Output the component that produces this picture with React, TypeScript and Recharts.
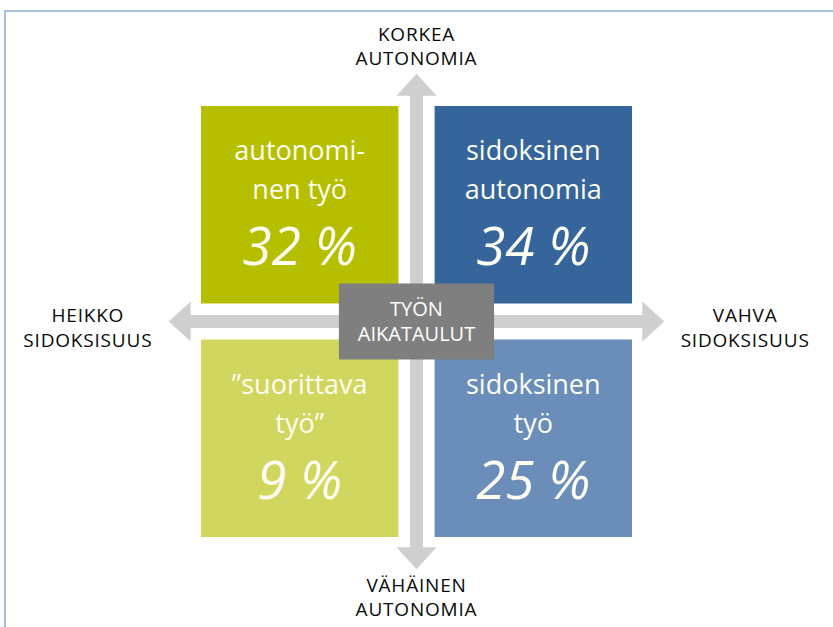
import { ComposedChart, XAxis, YAxis, ReferenceArea, ReferenceDot } from "recharts";

// quadrant contents, in order: top-left, top-right, bottom-left, bottom-right
const quadrantTitles = [
  ["autonomi-", "nen työ"],
  ["sidoksinen", "autonomia"],
  ["”suorittava", "työ”"],
  ["sidoksinen", "työ"],
];
const quadrantShares = [32, 34, 9, 25];
const bondSide = [-1, 1, -1, 1]; // heikko / vahva sidoksisuus
const autonomySide = [1, 1, -1, -1]; // korkea / vähäinen autonomia

const autonomyLabels = [
  ["KORKEA", "AUTONOMIA"],
  ["VÄHÄINEN", "AUTONOMIA"],
];
const bondLabels = [
  ["HEIKKO", "SIDOKSISUUS"],
  ["VAHVA", "SIDOKSISUUS"],
];
const centerLabel = ["TYÖN", "AIKATAULUT"];

const COLORS = ["#b5bf00", "#35659a", "#d1d65e", "#6a8db9"];
const FONT = "'Segoe UI', 'Open Sans', 'Noto Sans', sans-serif";
const ARROW = "#cfcfcf";
const GAP = 0.084;
const ARROW_END = 1.15;

function QuadrantLabel(props: any) {
  const { viewBox, lines, share } = props;
  const { x, y, width } = viewBox;
  const cx = x + width / 2;
  return (
    <g fill="#fdfdf2" textAnchor="middle" fontFamily={FONT}>
      <text x={cx} y={y + 54} fontSize={27}>
        <tspan x={cx}>{lines[0]}</tspan>
        <tspan x={cx} dy={39}>{lines[1]}</tspan>
      </text>
      <text x={cx} y={y + 159} fontSize={53} fontStyle="italic">
        {share} %
      </text>
    </g>
  );
}

function StackLabel(props: any) {
  const { viewBox, lines, fill = "#0a0a0a", size = 19, lh = 24, spacing = 0.8 } = props;
  const cx = viewBox.x + (viewBox.width || 0) / 2;
  const cy = viewBox.y + (viewBox.height || 0) / 2;
  const top = cy - ((lines.length - 1) * lh) / 2 + size * 0.36;
  return (
    <text
      x={cx}
      y={top}
      fill={fill}
      textAnchor="middle"
      fontFamily={FONT}
      fontSize={size}
      letterSpacing={spacing}
    >
      {lines.map((l: string, i: number) => (
        <tspan key={i} x={cx} dy={i === 0 ? 0 : lh}>
          {l}
        </tspan>
      ))}
    </text>
  );
}

function HArrow(p: any) {
  const { x, y, width: w, height: h } = p;
  const cy = y + h / 2;
  const H = 22;
  const s = 6.5;
  const pts = [
    [x, cy], [x + H, y], [x + H, cy - s], [x + w - H, cy - s], [x + w - H, y],
    [x + w, cy], [x + w - H, y + h], [x + w - H, cy + s], [x + H, cy + s], [x + H, y + h],
  ];
  return <polygon points={pts.map((q) => q.join(",")).join(" ")} fill={ARROW} />;
}

function VArrow(p: any) {
  const { x, y, width: w, height: h } = p;
  const cx = x + w / 2;
  const H = 22;
  const s = 6.5;
  const pts = [
    [cx, y], [x + w, y + H], [cx + s, y + H], [cx + s, y + h - H], [x + w, y + h - H],
    [cx, y + h], [x, y + h - H], [cx - s, y + h - H], [cx - s, y + H], [x, y + H],
  ];
  return <polygon points={pts.map((q) => q.join(",")).join(" ")} fill={ARROW} />;
}

export default function App() {
  return (
    <div style={{ position: "absolute", left: 0, top: 0, width: 833, height: 627, background: "#fff" }}>
      <div
        style={{
          position: "absolute",
          left: 4,
          top: 10,
          right: 0,
          bottom: 0,
          borderTop: "2px solid #a9bfdb",
          borderLeft: "2px solid #a9bfdb",
        }}
      />
      <div style={{ position: "absolute", left: 0, top: 0 }}>
        <ComposedChart width={833} height={627} margin={{ top: 106, right: 201, bottom: 90, left: 201 }}>
          <XAxis type="number" dataKey="x" domain={[-1, 1]} hide allowDataOverflow />
          <YAxis type="number" dataKey="y" domain={[-1, 1]} hide allowDataOverflow />

          <ReferenceArea
            x1={-ARROW_END}
            x2={ARROW_END}
            y1={-0.093}
            y2={0.093}
            ifOverflow="visible"
            shape={(p: any) => <HArrow {...p} />}
          />
          <ReferenceArea
            x1={-0.093}
            x2={0.093}
            y1={-ARROW_END}
            y2={ARROW_END}
            ifOverflow="visible"
            shape={(p: any) => <VArrow {...p} />}
          />

          {quadrantShares.map((share, i) => {
            const sx = bondSide[i];
            const sy = autonomySide[i];
            return (
              <ReferenceArea
                key={i}
                x1={sx < 0 ? -1 : GAP}
                x2={sx < 0 ? -GAP : 1}
                y1={sy < 0 ? -1 : GAP}
                y2={sy < 0 ? -GAP : 1}
                fill={COLORS[i]}
                fillOpacity={1}
                stroke="none"
                ifOverflow="visible"
                label={<QuadrantLabel lines={quadrantTitles[i]} share={share} />}
              />
            );
          })}

          <ReferenceArea
            x1={-0.36}
            x2={0.36}
            y1={-0.176}
            y2={0.176}
            fill="#7f7f7f"
            fillOpacity={1}
            stroke="none"
            ifOverflow="visible"
            label={<StackLabel lines={centerLabel} fill="#ffffff" size={20} lh={25} spacing={0} />}
          />

          {autonomyLabels.map((lines, i) => (
            <ReferenceDot
              key={"a" + i}
              x={0}
              y={i === 0 ? 1.278 : -1.278}
              r={0}
              fill="none"
              stroke="none"
              ifOverflow="visible"
              label={<StackLabel lines={lines} />}
            />
          ))}
          {bondLabels.map((lines, i) => (
            <ReferenceDot
              key={"b" + i}
              x={i === 0 ? -1.525 : 1.525}
              y={-0.03}
              r={0}
              fill="none"
              stroke="none"
              ifOverflow="visible"
              label={<StackLabel lines={lines} lh={25} />}
            />
          ))}
        </ComposedChart>
      </div>
    </div>
  );
}
